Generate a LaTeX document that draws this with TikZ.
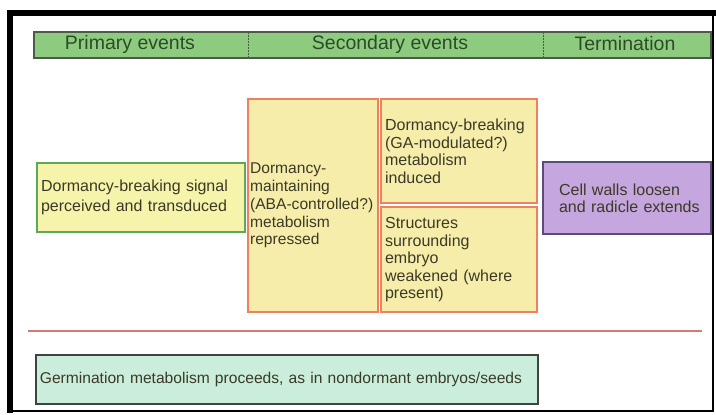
\documentclass[tikz,border=0pt]{standalone}
\usepackage{fontspec}
\setmainfont{Liberation Sans}
\definecolor{txt}{HTML}{3A3A26}
\definecolor{hdrtxt}{HTML}{2E4A2A}
\definecolor{hdrfill}{HTML}{8DCC7E}
\definecolor{hdrdraw}{HTML}{4E5A48}
\definecolor{yelfill}{HTML}{F6F3AA}
\definecolor{grnedge}{HTML}{5FA85A}
\definecolor{orgfill}{HTML}{F7EDAA}
\definecolor{orgedge}{HTML}{EE8064}
\definecolor{purfill}{HTML}{C6A6DE}
\definecolor{puredge}{HTML}{5A4C78}
\definecolor{cyanfill}{HTML}{CBEEDC}
\definecolor{cyanedge}{HTML}{3E4440}
\definecolor{redline}{HTML}{D67A78}
\tikzset{
  boxbase/.style={rectangle, anchor=north west, inner xsep=0pt, inner ysep=0pt, align=left, text=txt, line width=2.2pt, font=\fontsize{16}{18}\selectfont},
  hdrtext/.style={text=hdrtxt, font=\fontsize{19.5}{22}\selectfont, inner sep=0pt},
}
\begin{document}
\begin{tikzpicture}[x=1pt,y=-1pt]
\useasboundingbox (0,0) rectangle (716,415);
\fill[white] (0,0) rectangle (716,415);
% frame
\fill[black] (7,10) rectangle (716,16);
\fill[black] (7,10) rectangle (13,413);
\draw[black, line width=2pt] (13,411) -- (713,411) -- (713,16);
% header bar
\node[draw=hdrdraw, fill=hdrfill, line width=1.8pt, anchor=north west, minimum width=677pt, minimum height=26pt, inner sep=0pt] (hdr) at (33,31) {};
\draw[hdrdraw, dash pattern=on 1.5pt off 1.5pt, line width=0.8pt] (248,32) -- (248,57);
\draw[hdrdraw, dash pattern=on 1.5pt off 1.5pt, line width=0.8pt] (543,32) -- (543,57);
\node[hdrtext] (h1) at (130,44) {Primary events};
\node[hdrtext] (h2) at (390,44) {Secondary events};
\node[hdrtext] (h3) at (625,44) {Termination};
% left green box
\node[boxbase, draw=grnedge, fill=yelfill, minimum width=208pt, minimum height=69pt, text width=200pt, inner xsep=4pt, font=\fontsize{16}{19.5}\selectfont] (signal) at (36,162) {Dormancy-breaking signal\\perceived and transduced};
% orange boxes
\node[boxbase, draw=orgedge, fill=orgfill, minimum width=130pt, minimum height=213pt, text width=126pt, inner xsep=2pt, font=\fontsize{15.6}{17.8}\selectfont] (maint) at (247,98) {Dormancy-\\maintaining\\\mbox{(ABA-controlled?)}\\metabolism\\repressed};
\node[boxbase, draw=orgedge, fill=orgfill, minimum width=156pt, minimum height=104pt, text width=148pt, inner xsep=4pt, font=\fontsize{16}{17.5}\selectfont] (induce) at (380,98) {Dormancy-breaking\\(GA-modulated?)\\metabolism\\induced};
\node[boxbase, draw=orgedge, fill=orgfill, minimum width=156pt, minimum height=105pt, text width=148pt, inner xsep=4pt, font=\fontsize{16}{17.5}\selectfont] (weak) at (380,206) {Structures\\surrounding\\embryo\\weakened (where\\present)};
% purple box
\node[boxbase, draw=puredge, fill=purfill, minimum width=168pt, minimum height=72pt, text width=152pt, inner xsep=8pt, font=\fontsize{16}{17.5}\selectfont] (walls) at (542,161) {\hspace*{8pt}Cell walls loosen\\\hspace*{8pt}and radicle extends};
% red line
\coordinate (rl1) at (28,331);
\coordinate (rl2) at (702,331);
\draw[redline, line width=1.5pt] (rl1) -- (rl2);
% bottom box
\node[boxbase, draw=cyanedge, fill=cyanfill, line width=1.8pt, minimum width=502pt, minimum height=49pt, text width=494pt, inner xsep=4pt, font=\fontsize{15.6}{18}\selectfont] (germ) at (35,354) {Germination metabolism proceeds, as in nondormant embryos/seeds};
\end{tikzpicture}
\end{document}
